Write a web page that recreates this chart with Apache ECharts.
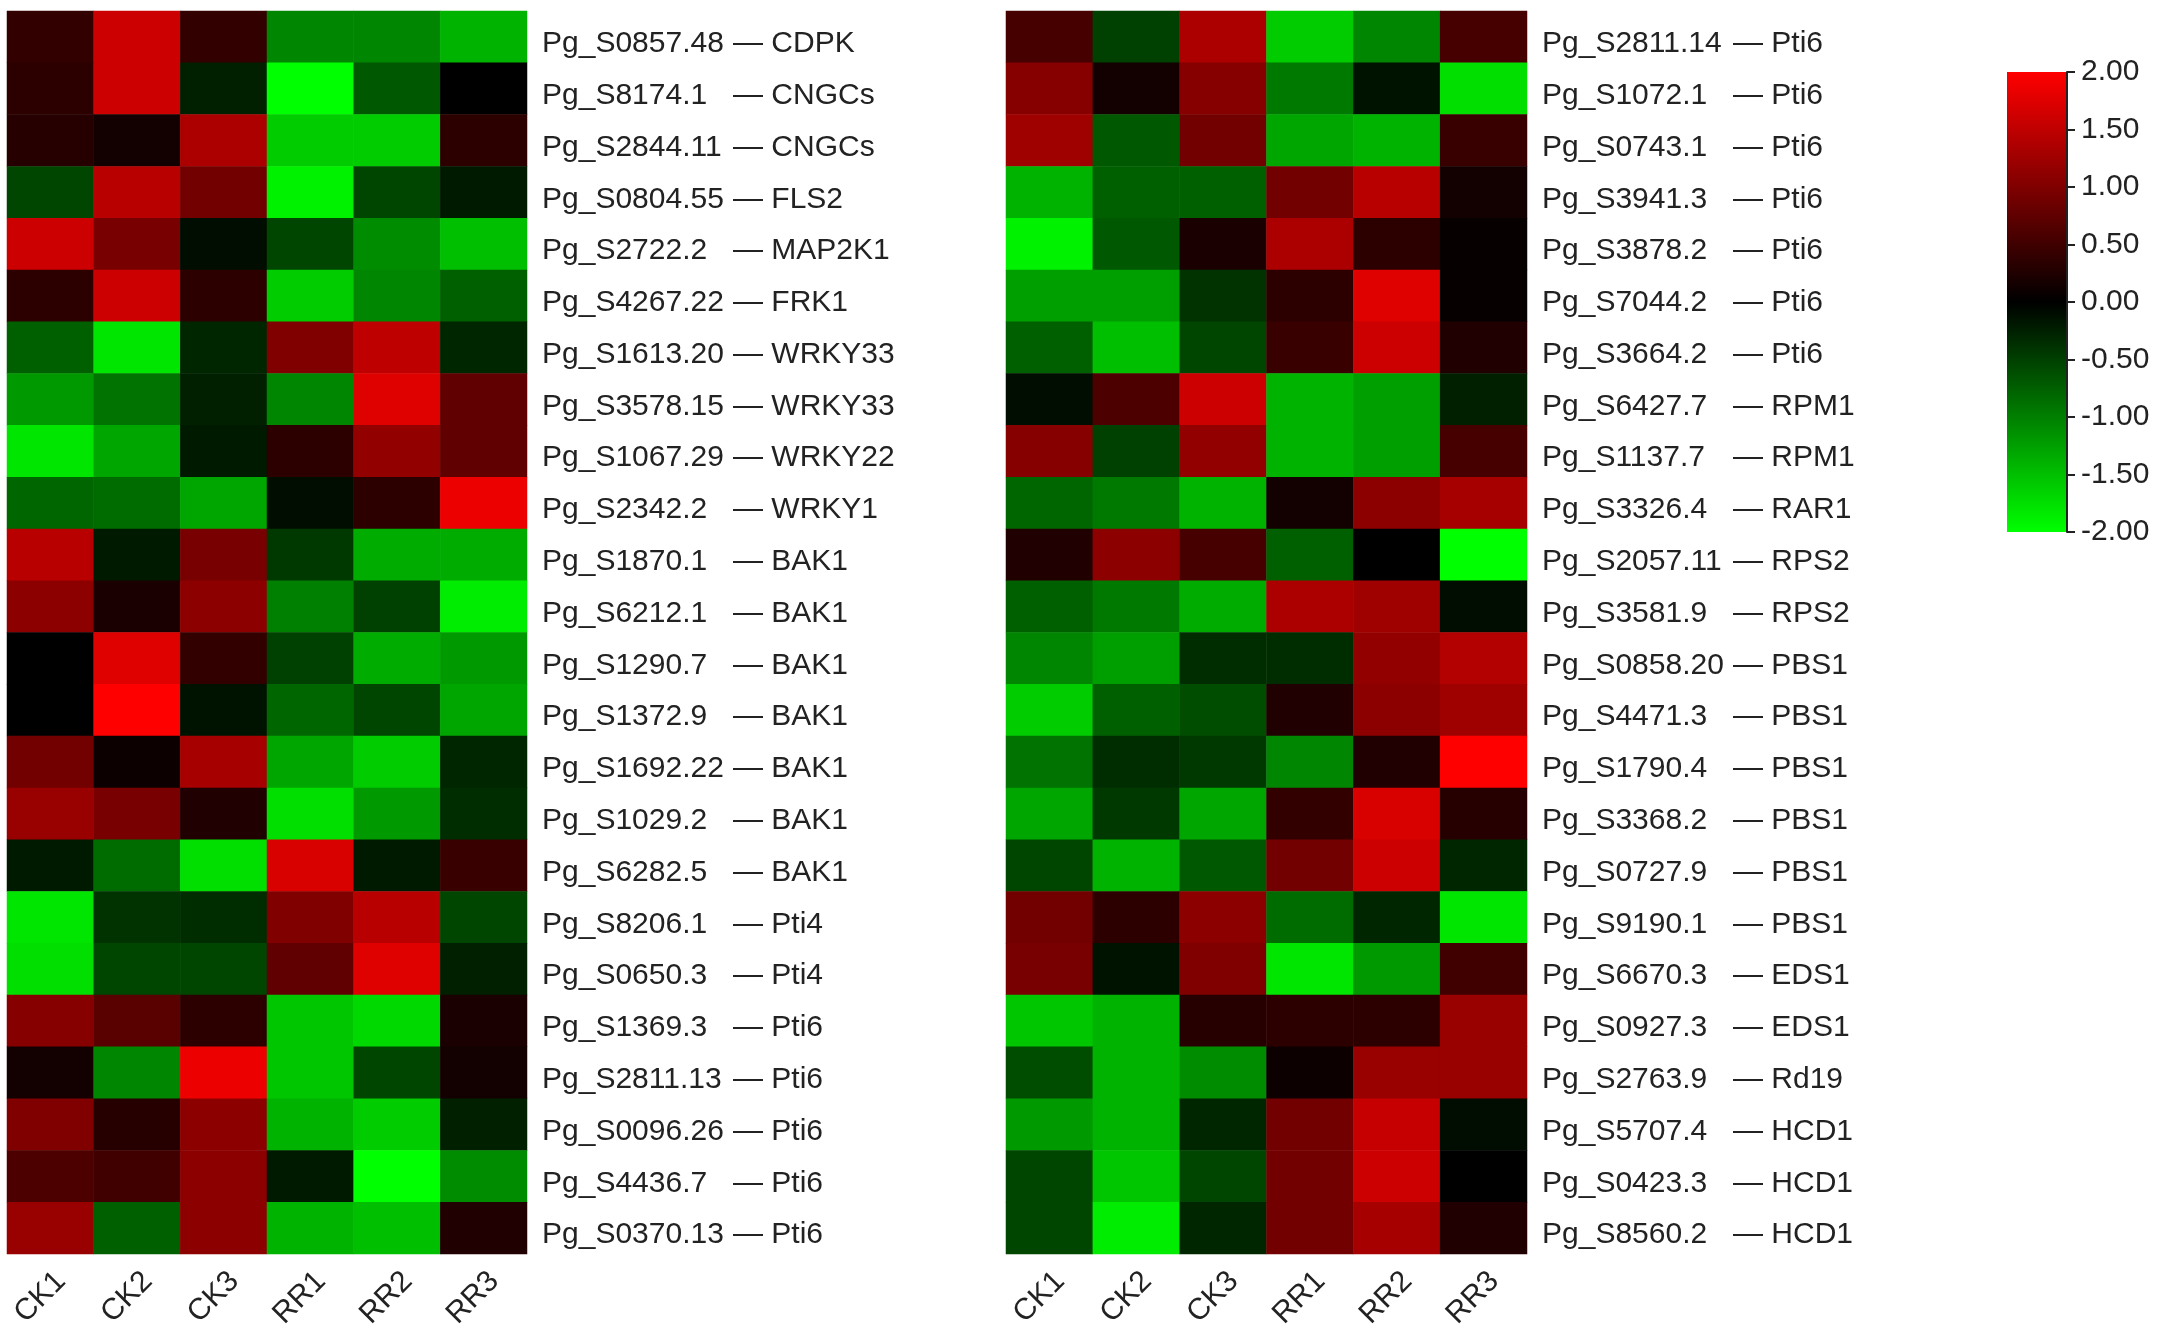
<!DOCTYPE html>
<html>
<head>
<meta charset="utf-8">
<script src="https://cdn.jsdelivr.net/npm/echarts@6/dist/echarts.min.js"></script>
<style>
html,body{margin:0;padding:0;background:#fff;}
#chart{width:2165px;height:1337px;}
</style>
</head>
<body>
<div id="chart"></div>
<script>
var columns = ['CK1', 'CK2', 'CK3', 'RR1', 'RR2', 'RR3'];

var leftIds = ['Pg_S0857.48','Pg_S8174.1','Pg_S2844.11','Pg_S0804.55','Pg_S2722.2','Pg_S4267.22',
  'Pg_S1613.20','Pg_S3578.15','Pg_S1067.29','Pg_S2342.2','Pg_S1870.1','Pg_S6212.1',
  'Pg_S1290.7','Pg_S1372.9','Pg_S1692.22','Pg_S1029.2','Pg_S6282.5','Pg_S8206.1',
  'Pg_S0650.3','Pg_S1369.3','Pg_S2811.13','Pg_S0096.26','Pg_S4436.7','Pg_S0370.13'];
var leftGenes = ['CDPK','CNGCs','CNGCs','FLS2','MAP2K1','FRK1',
  'WRKY33','WRKY33','WRKY22','WRKY1','BAK1','BAK1',
  'BAK1','BAK1','BAK1','BAK1','BAK1','Pti4',
  'Pti4','Pti6','Pti6','Pti6','Pti6','Pti6'];
var leftValues = [
  [0.40, 1.60, 0.40, -1.05, -1.05, -1.40],
  [0.35, 1.60, -0.25, -2.00, -0.70, 0.00],
  [0.30, 0.15, 1.35, -1.60, -1.60, 0.35],
  [-0.55, 1.45, 0.90, -1.90, -0.55, -0.20],
  [1.60, 0.95, -0.10, -0.55, -1.10, -1.50],
  [0.35, 1.60, 0.35, -1.60, -1.05, -0.75],
  [-0.75, -1.80, -0.30, 1.00, 1.50, -0.30],
  [-1.20, -0.90, -0.25, -1.05, 1.75, 0.75],
  [-1.80, -1.30, -0.20, 0.35, 1.15, 0.75],
  [-0.80, -0.85, -1.30, -0.10, 0.35, 1.85],
  [1.45, -0.20, 0.95, -0.45, -1.35, -1.35],
  [1.10, 0.20, 1.10, -1.00, -0.50, -1.85],
  [0.00, 1.75, 0.40, -0.50, -1.35, -1.20],
  [0.00, 2.00, -0.15, -0.80, -0.55, -1.30],
  [0.90, 0.10, 1.30, -1.30, -1.60, -0.30],
  [1.20, 0.95, 0.25, -1.75, -1.20, -0.35],
  [-0.20, -0.85, -1.75, 1.70, -0.20, 0.45],
  [-1.80, -0.40, -0.35, 1.00, 1.45, -0.55],
  [-1.75, -0.55, -0.55, 0.75, 1.75, -0.25],
  [1.05, 0.70, 0.35, -1.55, -1.70, 0.20],
  [0.15, -1.05, 1.85, -1.55, -0.55, 0.15],
  [1.00, 0.30, 1.10, -1.40, -1.60, -0.25],
  [0.60, 0.50, 1.10, -0.20, -2.00, -1.10],
  [1.20, -0.75, 1.10, -1.40, -1.50, 0.25]
];

var rightIds = ['Pg_S2811.14','Pg_S1072.1','Pg_S0743.1','Pg_S3941.3','Pg_S3878.2','Pg_S7044.2',
  'Pg_S3664.2','Pg_S6427.7','Pg_S1137.7','Pg_S3326.4','Pg_S2057.11','Pg_S3581.9',
  'Pg_S0858.20','Pg_S4471.3','Pg_S1790.4','Pg_S3368.2','Pg_S0727.9','Pg_S9190.1',
  'Pg_S6670.3','Pg_S0927.3','Pg_S2763.9','Pg_S5707.4','Pg_S0423.3','Pg_S8560.2'];
var rightGenes = ['Pti6','Pti6','Pti6','Pti6','Pti6','Pti6',
  'Pti6','RPM1','RPM1','RAR1','RPS2','RPS2',
  'PBS1','PBS1','PBS1','PBS1','PBS1','PBS1',
  'EDS1','EDS1','Rd19','HCD1','HCD1','HCD1'];
var rightValues = [
  [0.55, -0.50, 1.35, -1.60, -1.05, 0.55],
  [1.05, 0.15, 1.05, -0.95, -0.15, -1.75],
  [1.25, -0.70, 0.90, -1.30, -1.40, 0.45],
  [-1.40, -0.75, -0.75, 0.90, 1.45, 0.15],
  [-1.90, -0.70, 0.20, 1.35, 0.35, 0.05],
  [-1.25, -1.25, -0.40, 0.35, 1.75, 0.05],
  [-0.75, -1.50, -0.55, 0.45, 1.60, 0.25],
  [-0.10, 0.60, 1.60, -1.40, -1.25, -0.25],
  [1.05, -0.50, 1.15, -1.40, -1.25, 0.55],
  [-0.80, -0.95, -1.40, 0.15, 1.10, 1.30],
  [0.25, 1.10, 0.55, -0.75, 0.00, -2.00],
  [-0.75, -0.95, -1.35, 1.35, 1.25, -0.10],
  [-1.05, -1.25, -0.35, -0.35, 1.15, 1.40],
  [-1.60, -0.75, -0.60, 0.25, 1.10, 1.25],
  [-0.90, -0.35, -0.45, -1.05, 0.25, 2.00],
  [-1.30, -0.45, -1.30, 0.40, 1.70, 0.30],
  [-0.55, -1.40, -0.70, 0.90, 1.60, -0.30],
  [0.90, 0.35, 1.10, -0.85, -0.30, -1.80],
  [0.95, -0.15, 1.00, -1.80, -1.20, 0.50],
  [-1.55, -1.40, 0.30, 0.35, 0.35, 1.20],
  [-0.60, -1.40, -1.10, 0.10, 1.20, 1.20],
  [-1.20, -1.40, -0.30, 0.90, 1.55, -0.10],
  [-0.55, -1.55, -0.55, 0.90, 1.60, 0.00],
  [-0.55, -1.85, -0.30, 0.90, 1.30, 0.25]
];

var colorbarTicks = [-2, -1.5, -1, -0.5, 0, 0.5, 1, 1.5, 2];
var scaleColors = ['#00ff00', '#000000', '#ff0000'];

function toCells(values) {
  var out = [];
  for (var i = 0; i < values.length; i++) {
    for (var j = 0; j < values[i].length; j++) {
      out.push([j, i, values[i][j]]);
    }
  }
  return out;
}
function rowLabels(ids, genes) {
  return ids.map(function (id, i) { return id + '|' + genes[i]; });
}

var FONT = '"Liberation Sans", Arial, sans-serif';
var TXT = '#222';

function yLabel(v) {
  var p = v.split('|');
  return '{a|' + p[0] + '}{b|\u2014 ' + p[1] + '}';
}
var richStyle = {
  a: { fontSize: 30, fontFamily: FONT, color: TXT, width: 191, align: 'left' },
  b: { fontSize: 30, fontFamily: FONT, color: TXT, align: 'left' }
};

var chart = echarts.init(document.getElementById('chart'), null, { renderer: 'canvas' });

function xAxisFor(idx) {
  return { type: 'category', gridIndex: idx, data: columns, position: 'bottom',
    axisLine: { show: false }, axisTick: { show: false }, splitLine: { show: false },
    axisLabel: { rotate: 45, fontSize: 30, fontFamily: FONT, color: TXT, margin: 12, interval: 0,
      verticalAlign: 'top' } };
}
function yAxisFor(idx, ids, genes) {
  return { type: 'category', gridIndex: idx, data: rowLabels(ids, genes), inverse: true, position: 'right',
    axisLine: { show: false }, axisTick: { show: false }, splitLine: { show: false },
    axisLabel: { interval: 0, margin: 15, padding: [14, 0, 0, 0], formatter: yLabel, rich: richStyle } };
}

var barGradient = new echarts.graphic.LinearGradient(0, 0, 0, 1, [
  { offset: 0, color: scaleColors[2] },
  { offset: 0.5, color: scaleColors[1] },
  { offset: 1, color: scaleColors[0] }
]);

var option = {
  backgroundColor: '#fff',
  animation: false,
  grid: [
    { left: 7, top: 11, width: 520, height: 1243 },
    { left: 1006, top: 11, width: 521, height: 1243 },
    { left: 2007, top: 72, width: 60, height: 460, show: true, backgroundColor: barGradient, borderWidth: 0, borderColor: 'transparent' }
  ],
  xAxis: [
    xAxisFor(0),
    xAxisFor(1),
    { type: 'category', gridIndex: 2, show: false, data: [''],
      axisLine: { show: false }, axisTick: { show: false }, axisLabel: { show: false }, splitLine: { show: false } }
  ],
  yAxis: [
    yAxisFor(0, leftIds, leftGenes),
    yAxisFor(1, rightIds, rightGenes),
    { type: 'value', gridIndex: 2, position: 'right', min: colorbarTicks[0], max: colorbarTicks[colorbarTicks.length - 1], interval: 0.5,
      axisLine: { show: true, onZero: false, lineStyle: { color: '#222', width: 2 } },
      axisTick: { show: true, inside: false, length: 8, lineStyle: { color: '#222', width: 2 } },
      splitLine: { show: false },
      axisLabel: { fontSize: 30, fontFamily: FONT, color: TXT, margin: 14, padding: [10, 0, 0, 0],
        formatter: function (v) { return v.toFixed(2); } } }
  ],
  visualMap: {
    type: 'continuous',
    show: false,
    min: -2, max: 2,
    seriesIndex: [0, 1],
    inRange: { color: scaleColors }
  },
  series: [
    { type: 'heatmap', xAxisIndex: 0, yAxisIndex: 0, data: toCells(leftValues),
      itemStyle: { borderWidth: 0 }, emphasis: { disabled: true } },
    { type: 'heatmap', xAxisIndex: 1, yAxisIndex: 1, data: toCells(rightValues),
      itemStyle: { borderWidth: 0 }, emphasis: { disabled: true } }
  ]
};
chart.setOption(option);
</script>
</body>
</html>
